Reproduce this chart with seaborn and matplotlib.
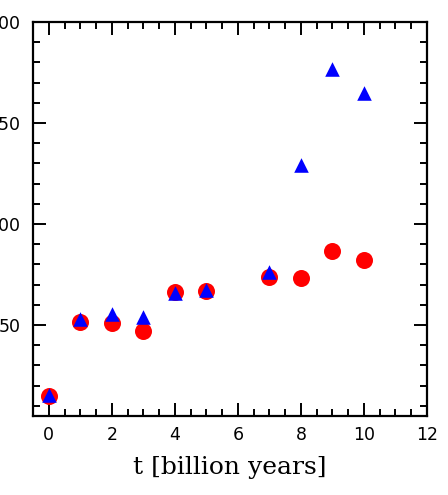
import numpy as np
import pandas as pd
import matplotlib
matplotlib.use("Agg")
import matplotlib.pyplot as plt
import seaborn as sns
from matplotlib.ticker import MultipleLocator

# values
t_red = [0, 1, 2, 3, 4, 5, 7, 8, 9, 10]
val_red = [14.8, 51.7, 50.8, 47.2, 66.2, 67.0, 73.8, 73.3, 86.8, 82.2]

t_blue = [0, 1, 2, 3, 4, 5, 7, 8, 9, 10]
val_blue = [15.5, 52.8, 55.3, 54.2, 66.0, 67.5, 76.3, 129.0, 176.5, 165.0]

red_df = pd.DataFrame({"t": t_red, "v": val_red})
blue_df = pd.DataFrame({"t": t_blue, "v": val_blue})

sns.set_style("ticks")
plt.rcParams["font.family"] = ["DejaVu Sans"]
plt.rcParams["text.color"] = "black"
plt.rcParams["xtick.color"] = "black"
plt.rcParams["ytick.color"] = "black"
plt.rcParams["axes.labelcolor"] = "black"

fig = plt.figure(figsize=(4.48, 4.95), dpi=100)
ax = fig.add_axes([33 / 448, 1 - 416 / 495, (427 - 33) / 448, (416 - 22) / 495])

sns.scatterplot(data=red_df, x="t", y="v", color="#ff0000", marker="o",
                s=150, linewidth=0, ax=ax, zorder=3)
sns.scatterplot(data=blue_df, x="t", y="v", color="#0000ff", marker="^",
                s=110, linewidth=0, ax=ax, zorder=4)

ax.set_xlim(-0.5, 12)
ax.set_ylim(5, 200)
ax.xaxis.set_major_locator(MultipleLocator(2))
ax.xaxis.set_minor_locator(MultipleLocator(0.5))
ax.yaxis.set_major_locator(MultipleLocator(50))
ax.yaxis.set_minor_locator(MultipleLocator(10))

for s in ax.spines.values():
    s.set_linewidth(1.6)
    s.set_color("black")
    s.set_visible(True)

ax.tick_params(which="both", direction="in", top=True, right=True,
               color="black", labelcolor="black", width=1.4)
ax.tick_params(which="major", length=9.5, labelsize=12.5, pad=7)
ax.tick_params(which="minor", length=5)
ax.tick_params(axis="y", which="major", pad=9)

ax.set_xlabel("t [billion years]", family="DejaVu Serif", fontsize=18,
              labelpad=9, color="black")
ax.set_ylabel("")

fig.savefig("out.png", dpi=100)
